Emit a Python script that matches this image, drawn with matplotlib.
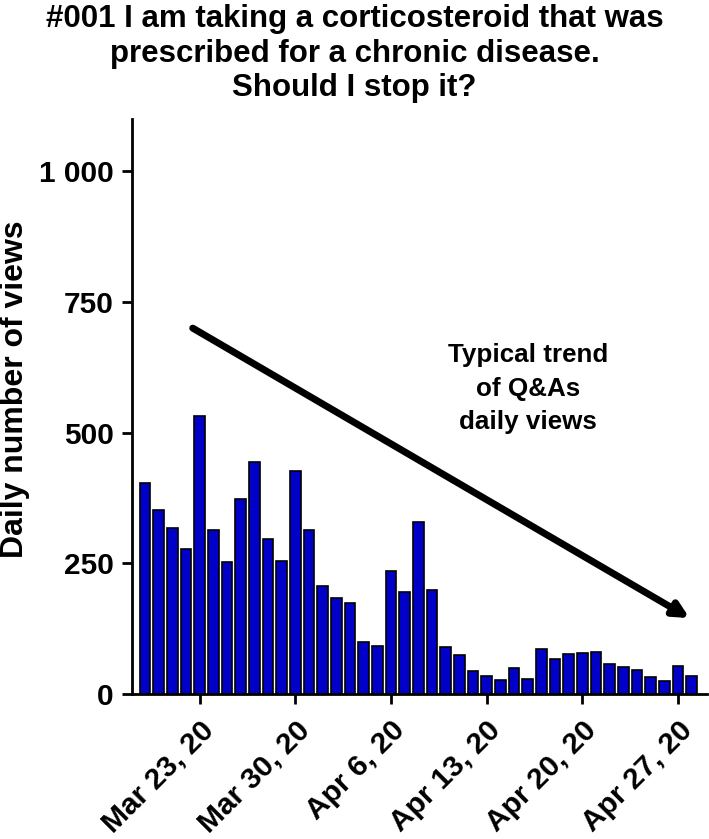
import numpy as np
import matplotlib.pyplot as plt
import pandas as pd

plt.rcParams['font.family'] = ['Liberation Sans', 'DejaVu Sans']
plt.rcParams['font.weight'] = 'bold'

dates = pd.date_range('2020-03-19', '2020-04-28', freq='D')
views = [403, 351, 318, 278, 531, 313, 253, 373, 444, 297,
         255, 426, 313, 207, 184, 174, 100, 92, 236, 195,
         329, 198, 90, 74, 43, 34, 27, 49, 28, 86,
         67, 77, 79, 81, 58, 51, 46, 33, 24, 54, 34]
tick_dates = pd.to_datetime(['2020-03-23', '2020-03-30', '2020-04-06',
                             '2020-04-13', '2020-04-20', '2020-04-27'])
y_ticks = [0, 250, 500, 750, 1000]
y_tick_labels = ['0', '250', '500', '750', '1 000']
title = ('#001 I am taking a corticosteroid that was\n'
         'prescribed for a chronic disease.\nShould I stop it?')

fig = plt.figure(figsize=(7.09, 8.39), dpi=100)
ax = fig.add_axes([0.186, 0.173, 0.811, 0.685])

ax.bar(dates, views, width=0.78, color='#0000C8', edgecolor='black', linewidth=1.2)

ax.set_ylim(0, 1100)
ax.set_xlim(dates[0] - pd.Timedelta(days=0.95), dates[-1] + pd.Timedelta(days=1.1))
ax.set_yticks(y_ticks)
ax.set_yticklabels(y_tick_labels)
ax.set_xticks(tick_dates)
ax.set_xticklabels([d.strftime('%b ') + str(d.day) + d.strftime(', %y') for d in tick_dates],
                   rotation=45, ha='right', rotation_mode='anchor')

for s in ['top', 'right']:
    ax.spines[s].set_visible(False)
for s in ['left', 'bottom']:
    ax.spines[s].set_linewidth(2)
ax.tick_params(width=2, length=7, labelsize=21.5, pad=6)
ax.tick_params(axis='x', pad=9)
for lab in ax.get_xticklabels() + ax.get_yticklabels():
    lab.set_fontweight('bold')

ax.set_ylabel('Daily number of views', fontsize=23, fontweight='bold')
ax.yaxis.set_label_coords(-0.178, 0.53)

ax.annotate('', xy=(pd.Timestamp('2020-04-27 20:00'), 145),
            xytext=(pd.Timestamp('2020-03-22 12:00'), 700),
            arrowprops=dict(arrowstyle='-|>', lw=5, color='black', mutation_scale=22,
                            shrinkA=0, shrinkB=0))
ax.text(pd.Timestamp('2020-04-16'), 584, 'Typical trend\nof Q&As\ndaily views',
        ha='center', va='center', fontsize=18.7, fontweight='bold', linespacing=1.5)

fig.text(0.5, 0.995, title, ha='center', va='top', fontsize=22.5,
         fontweight='bold', linespacing=1.2)

fig.savefig('out.png', dpi=100)
